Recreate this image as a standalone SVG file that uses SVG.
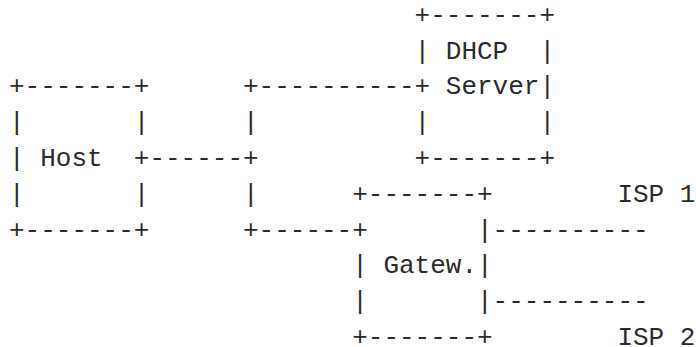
<svg xmlns="http://www.w3.org/2000/svg" width="696" height="347" viewBox="0 0 696 347">
<style>
text{font-family:"Liberation Mono","DejaVu Sans Mono",monospace;font-size:26px;fill:#2b2b2b;white-space:pre}
</style>
<rect width="696" height="347" fill="#fff"/>
<g id="host">
<text x="9" y="94.3" xml:space="preserve">+-------+</text>
<text x="9" y="130.1" xml:space="preserve">|       |</text>
<text x="9" y="165.9" xml:space="preserve">| Host  +</text>
<text x="9" y="201.7" xml:space="preserve">|       |</text>
<text x="9" y="237.5" xml:space="preserve">+-------+</text>
</g>
<g id="dhcp-server">
<text x="414.6" y="22.7" xml:space="preserve">+-------+</text>
<text x="414.6" y="58.5" xml:space="preserve">| DHCP  |</text>
<text x="414.6" y="94.3" xml:space="preserve">+ Server|</text>
<text x="414.6" y="130.1" xml:space="preserve">|       |</text>
<text x="414.6" y="165.9" xml:space="preserve">+-------+</text>
</g>
<g id="gateway">
<text x="352.2" y="201.7" xml:space="preserve">+-------+</text>
<text x="352.2" y="237.5" xml:space="preserve">+       |</text>
<text x="352.2" y="273.3" xml:space="preserve">| Gatew.|</text>
<text x="352.2" y="309.1" xml:space="preserve">|       |</text>
<text x="352.2" y="344.6" xml:space="preserve">+-------+</text>
</g>
<g id="connectors">
<text x="243" y="94.3" xml:space="preserve">+----------</text>
<text x="243" y="130.1" xml:space="preserve">|</text>
<text x="149.4" y="165.9" xml:space="preserve">------+</text>
<text x="243" y="201.7" xml:space="preserve">|</text>
<text x="243" y="237.5" xml:space="preserve">+------</text>
<text x="492.6" y="237.5" xml:space="preserve">----------</text>
<text x="492.6" y="309.1" xml:space="preserve">----------</text>
</g>
<g id="isp1">
<text x="617.4" y="201.7" xml:space="preserve">ISP 1</text>
</g>
<g id="isp2">
<text x="617.4" y="344.6" xml:space="preserve">ISP 2</text>
</g>
</svg>
